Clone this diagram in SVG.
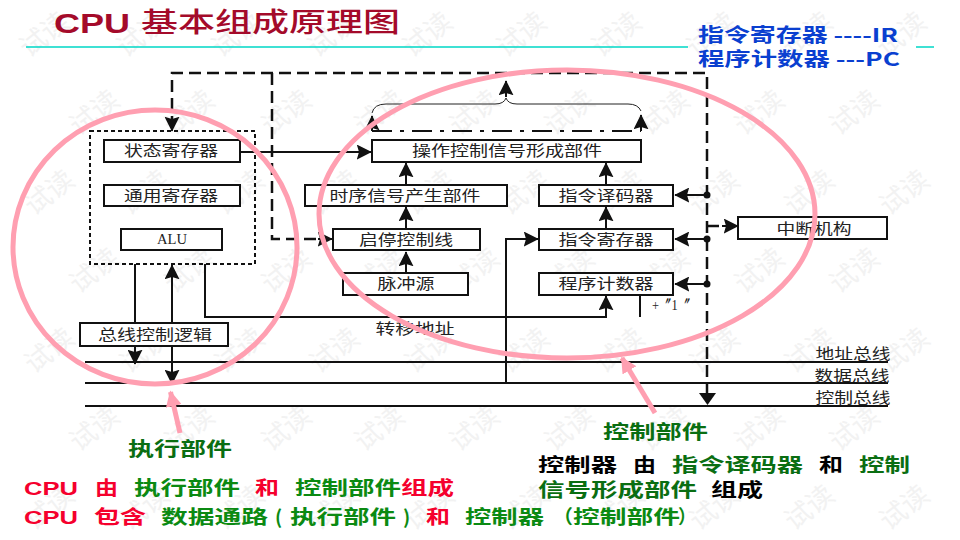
<svg xmlns="http://www.w3.org/2000/svg" xmlns:xlink="http://www.w3.org/1999/xlink" width="960" height="540" viewBox="0 0 960 540">
<style>
text{font-family:"Noto Sans CJK SC","Liberation Sans",sans-serif}
.wm{font-size:27px;fill:#f2f2f2;font-weight:400;text-anchor:middle}
.box{fill:#fff;stroke:#111;stroke-width:2}
.lbl{font-size:15px;fill:#222;text-anchor:middle;dominant-baseline:central}
.ln{fill:none;stroke:#111;stroke-width:2}
.thin{fill:none;stroke:#222;stroke-width:1}
.dash{fill:none;stroke:#111;stroke-width:2.500;stroke-dasharray:12 6}
.dot{fill:none;stroke:#111;stroke-width:2;stroke-dasharray:4 3}
.head{fill:#111}
.pink{fill:none;stroke:#ff9fb1;stroke-width:5}
.b{font-weight:700;font-size:19px}
.g{fill:#0b8a12}.dg{fill:#0a6e12}.r{fill:#f5002d}.k{fill:#000}
</style>
<defs>
<g id="w"><text class="wm" transform="rotate(-38)">试读</text></g>
<marker id="a" viewBox="0 0 10 10" refX="9.500" refY="5" markerWidth="15" markerHeight="15" markerUnits="userSpaceOnUse" orient="auto"><path d="M0 0L10 5L0 10L1.500 5Z" fill="#111"/></marker>
<marker id="pa" viewBox="0 0 10 10" refX="9" refY="5" markerWidth="16" markerHeight="16" markerUnits="userSpaceOnUse" orient="auto"><path d="M0 0L10 5L0 10Z" fill="#ff9fb1"/></marker>
</defs>
<rect width="960" height="540" fill="#fff"/>
<g id="watermarks">
<use xlink:href="#w" x="50" y="42"/><use xlink:href="#w" x="147" y="42"/><use xlink:href="#w" x="242" y="42"/><use xlink:href="#w" x="338" y="42"/><use xlink:href="#w" x="433" y="42"/><use xlink:href="#w" x="527" y="42"/><use xlink:href="#w" x="622" y="42"/><use xlink:href="#w" x="717" y="42"/><use xlink:href="#w" x="813" y="42"/><use xlink:href="#w" x="907" y="42"/>
<use xlink:href="#w" x="100" y="120"/><use xlink:href="#w" x="195" y="120"/><use xlink:href="#w" x="292" y="120"/><use xlink:href="#w" x="385" y="120"/><use xlink:href="#w" x="480" y="120"/><use xlink:href="#w" x="575" y="120"/><use xlink:href="#w" x="670" y="120"/><use xlink:href="#w" x="765" y="120"/><use xlink:href="#w" x="860" y="120"/>
<use xlink:href="#w" x="55" y="200"/><use xlink:href="#w" x="150" y="200"/><use xlink:href="#w" x="245" y="200"/><use xlink:href="#w" x="340" y="200"/><use xlink:href="#w" x="435" y="200"/><use xlink:href="#w" x="530" y="200"/><use xlink:href="#w" x="625" y="200"/><use xlink:href="#w" x="720" y="200"/><use xlink:href="#w" x="815" y="200"/><use xlink:href="#w" x="910" y="200"/>
<use xlink:href="#w" x="100" y="278"/><use xlink:href="#w" x="195" y="278"/><use xlink:href="#w" x="292" y="278"/><use xlink:href="#w" x="385" y="278"/><use xlink:href="#w" x="480" y="278"/><use xlink:href="#w" x="575" y="278"/><use xlink:href="#w" x="670" y="278"/><use xlink:href="#w" x="765" y="278"/><use xlink:href="#w" x="860" y="278"/>
<use xlink:href="#w" x="55" y="358"/><use xlink:href="#w" x="150" y="358"/><use xlink:href="#w" x="245" y="358"/><use xlink:href="#w" x="340" y="358"/><use xlink:href="#w" x="435" y="358"/><use xlink:href="#w" x="530" y="358"/><use xlink:href="#w" x="625" y="358"/><use xlink:href="#w" x="720" y="358"/><use xlink:href="#w" x="815" y="358"/><use xlink:href="#w" x="910" y="358"/>
<use xlink:href="#w" x="100" y="436"/><use xlink:href="#w" x="195" y="436"/><use xlink:href="#w" x="292" y="436"/><use xlink:href="#w" x="385" y="436"/><use xlink:href="#w" x="480" y="436"/><use xlink:href="#w" x="575" y="436"/><use xlink:href="#w" x="670" y="436"/><use xlink:href="#w" x="765" y="436"/><use xlink:href="#w" x="860" y="436"/>
<use xlink:href="#w" x="55" y="515"/><use xlink:href="#w" x="150" y="515"/><use xlink:href="#w" x="245" y="515"/><use xlink:href="#w" x="340" y="515"/><use xlink:href="#w" x="435" y="515"/><use xlink:href="#w" x="530" y="515"/><use xlink:href="#w" x="625" y="515"/><use xlink:href="#w" x="720" y="515"/><use xlink:href="#w" x="815" y="515"/><use xlink:href="#w" x="910" y="515"/>
</g>
<g id="title">
<text x="54" y="33" font-size="27" font-weight="700" fill="#a40a2a" textLength="76" lengthAdjust="spacingAndGlyphs" style="font-family:'Liberation Sans',sans-serif">CPU</text>
<text x="141" y="32" font-size="27" font-weight="500" fill="#a40a2a" textLength="259" lengthAdjust="spacingAndGlyphs">基本组成原理图</text>
<path d="M26 47H688M916 47H934" fill="none" stroke="#00d8c6" stroke-width="1.500"/>
<text x="698" y="42" class="b" fill="#0a3fd0" textLength="200" lengthAdjust="spacingAndGlyphs">指令寄存器 ----IR</text>
<text x="698" y="66" class="b" fill="#0a3fd0" textLength="202" lengthAdjust="spacingAndGlyphs">程序计数器 ---PC</text>
</g>
<g id="connectors">
<path class="dash" d="M707 395V73H172V120"/>
<path class="ln" d="M172 120V131" marker-end="url(#a)"/>
<path class="head" d="M699 393H716L707.500 405Z"/>
<path class="dash" d="M272 73V239H322"/>
<path class="ln" d="M318 239H332" marker-end="url(#a)"/>
<path class="dash" d="M707 226H725"/>
<path class="ln" d="M722 226H738" marker-end="url(#a)"/>
<path class="dot" d="M90 131H255V264H90Z"/>
<path class="ln" stroke-dasharray="20 8 4 8" d="M372 131H641"/>
<path class="thin" d="M372 113Q374 104 386 104H495Q504 104 506 98Q508 104 517 104H628Q638 104 641 111"/>
<path class="ln" d="M372 131V116" marker-end="url(#a)"/>
<path class="ln" d="M641 131V115" marker-end="url(#a)"/>
<path class="ln" d="M506 97V81" marker-end="url(#a)"/>
<path class="ln" d="M240 152H371" marker-end="url(#a)"/>
<path class="ln" d="M406 185V163" marker-end="url(#a)"/>
<path class="ln" d="M406 229V207" marker-end="url(#a)"/>
<path class="ln" d="M406 273V252" marker-end="url(#a)"/>
<path class="ln" d="M606 185V163" marker-end="url(#a)"/>
<path class="ln" d="M606 229V207" marker-end="url(#a)"/>
<path class="ln" d="M506 383V239H538" marker-end="url(#a)"/>
<path class="ln" d="M205 264V317H606V296" marker-end="url(#a)"/>
<path class="ln" d="M640 296V317"/>
<path class="ln" d="M135 264V323"/>
<path class="ln" d="M172 383V265" marker-end="url(#a)"/>
<path class="ln" d="M172 346V384" marker-end="url(#a)"/>
<path class="ln" d="M135 346V364" marker-end="url(#a)"/>
<path class="ln" d="M707 195H675" marker-end="url(#a)"/>
<path class="ln" d="M707 239H675" marker-end="url(#a)"/>
<path class="ln" d="M707 284H675" marker-end="url(#a)"/>
<circle class="head" cx="707" cy="195" r="3.500"/><circle class="head" cx="707" cy="239" r="3.500"/><circle class="head" cx="707" cy="284" r="3.500"/>
<path class="ln" d="M85 362H888M85 383H888M85 406H888"/>
</g>
<g id="n1"><rect class="box" x="104" y="140" width="136" height="22"/><text class="lbl" x="171" y="149" textLength="94" lengthAdjust="spacingAndGlyphs">状态寄存器</text></g>
<g id="n2"><rect class="box" x="104" y="185" width="136" height="21"/><text class="lbl" x="171" y="194" textLength="94" lengthAdjust="spacingAndGlyphs">通用寄存器</text></g>
<g id="n3"><rect class="box" x="121" y="229" width="101" height="21"/><text class="lbl" x="172" y="239" style="font-family:'Liberation Serif',serif" font-size="13" textLength="30" lengthAdjust="spacingAndGlyphs">ALU</text></g>
<g id="n4"><rect class="box" x="372" y="140" width="269" height="22"/><text class="lbl" x="507" y="149" textLength="190" lengthAdjust="spacingAndGlyphs">操作控制信号形成部件</text></g>
<g id="n5"><rect class="box" x="305" y="185" width="202" height="21"/><text class="lbl" x="405" y="194" textLength="151" lengthAdjust="spacingAndGlyphs">时序信号产生部件</text></g>
<g id="n6"><rect class="box" x="333" y="229" width="147" height="21"/><text class="lbl" x="406" y="238" textLength="94" lengthAdjust="spacingAndGlyphs">启停控制线</text></g>
<g id="n7"><rect class="box" x="343" y="273" width="125" height="22"/><text class="lbl" x="406" y="282" textLength="57" lengthAdjust="spacingAndGlyphs">脉冲源</text></g>
<g id="n8"><rect class="box" x="539" y="185" width="134" height="21"/><text class="lbl" x="606" y="194" textLength="95" lengthAdjust="spacingAndGlyphs">指令译码器</text></g>
<g id="n9"><rect class="box" x="539" y="229" width="134" height="21"/><text class="lbl" x="606" y="238" textLength="95" lengthAdjust="spacingAndGlyphs">指令寄存器</text></g>
<g id="n10"><rect class="box" x="539" y="273" width="134" height="22"/><text class="lbl" x="606" y="282" textLength="95" lengthAdjust="spacingAndGlyphs">程序计数器</text></g>
<g id="n11"><rect class="box" x="738" y="217" width="149" height="22"/><text class="lbl" x="814" y="227" textLength="75" lengthAdjust="spacingAndGlyphs">中断机构</text></g>
<g id="n12"><rect class="box" x="80" y="323" width="148" height="23"/><text class="lbl" x="155" y="333" textLength="114" lengthAdjust="spacingAndGlyphs">总线控制逻辑</text></g>
<g id="labels">
<text class="lbl" x="415" y="327" textLength="79" lengthAdjust="spacingAndGlyphs">转移地址</text>
<text class="lbl" x="671" y="305" style="font-family:'Liberation Serif',serif" textLength="38" lengthAdjust="spacingAndGlyphs">+〞1〞</text>
<text class="lbl" x="853" y="352" textLength="75" lengthAdjust="spacingAndGlyphs">地址总线</text>
<text class="lbl" x="852" y="374" textLength="75" lengthAdjust="spacingAndGlyphs">数据总线</text>
<text class="lbl" x="853" y="396" textLength="75" lengthAdjust="spacingAndGlyphs">控制总线</text>
</g>
<g id="highlights">
<ellipse class="pink" cx="155" cy="247" rx="142" ry="137"/>
<ellipse class="pink" cx="567" cy="214" rx="248" ry="144"/>
<path class="pink" d="M180 433L170.500 392" marker-end="url(#pa)"/>
<path class="pink" d="M655 413L622 358" marker-end="url(#pa)"/>
</g>
<g id="captions">
<text class="b dg" x="128" y="456" textLength="104" lengthAdjust="spacingAndGlyphs">执行部件</text>
<text class="b dg" x="603" y="439" textLength="105" lengthAdjust="spacingAndGlyphs">控制部件</text>
<g class="b">
<text class="r" x="24" y="495" style="font-family:'Liberation Sans',sans-serif" textLength="54" lengthAdjust="spacingAndGlyphs">CPU</text>
<text class="r" x="95" y="495" textLength="23" lengthAdjust="spacingAndGlyphs">由</text>
<text class="g" x="134" y="495" textLength="106" lengthAdjust="spacingAndGlyphs">执行部件</text>
<text class="r" x="255" y="495" textLength="24" lengthAdjust="spacingAndGlyphs">和</text>
<text class="g" x="295" y="495" textLength="106" lengthAdjust="spacingAndGlyphs">控制部件</text>
<text class="r" x="401" y="495" textLength="53" lengthAdjust="spacingAndGlyphs">组成</text>
<text class="r" x="24" y="524" style="font-family:'Liberation Sans',sans-serif" textLength="54" lengthAdjust="spacingAndGlyphs">CPU</text>
<text class="r" x="94" y="524" textLength="52" lengthAdjust="spacingAndGlyphs">包含</text>
<text class="g" x="161" y="524" textLength="107" lengthAdjust="spacingAndGlyphs">数据通路</text>
<text class="g" x="275" y="524">(</text>
<text class="g" x="290" y="524" textLength="106" lengthAdjust="spacingAndGlyphs">执行部件</text>
<text class="g" x="403" y="524">)</text>
<text class="r" x="426" y="524" textLength="24" lengthAdjust="spacingAndGlyphs">和</text>
<text class="g" x="465" y="524" textLength="79" lengthAdjust="spacingAndGlyphs">控制器</text>
<text class="g" x="553" y="524" textLength="20" lengthAdjust="spacingAndGlyphs">（</text>
<text class="g" x="573" y="524" textLength="107" lengthAdjust="spacingAndGlyphs">控制部件</text>
<text class="g" x="678" y="524" textLength="18" lengthAdjust="spacingAndGlyphs">）</text>
<text class="k" x="538" y="472" textLength="79" lengthAdjust="spacingAndGlyphs">控制器</text>
<text class="k" x="633" y="472" textLength="23" lengthAdjust="spacingAndGlyphs">由</text>
<text class="dg" x="672" y="472" textLength="131" lengthAdjust="spacingAndGlyphs">指令译码器</text>
<text class="k" x="819" y="472" textLength="24" lengthAdjust="spacingAndGlyphs">和</text>
<text class="dg" x="859" y="472" textLength="51" lengthAdjust="spacingAndGlyphs">控制</text>
<text class="dg" x="538" y="497" textLength="159" lengthAdjust="spacingAndGlyphs">信号形成部件</text>
<text class="k" x="711" y="497" textLength="52" lengthAdjust="spacingAndGlyphs">组成</text>
</g>
</g>
</svg>
